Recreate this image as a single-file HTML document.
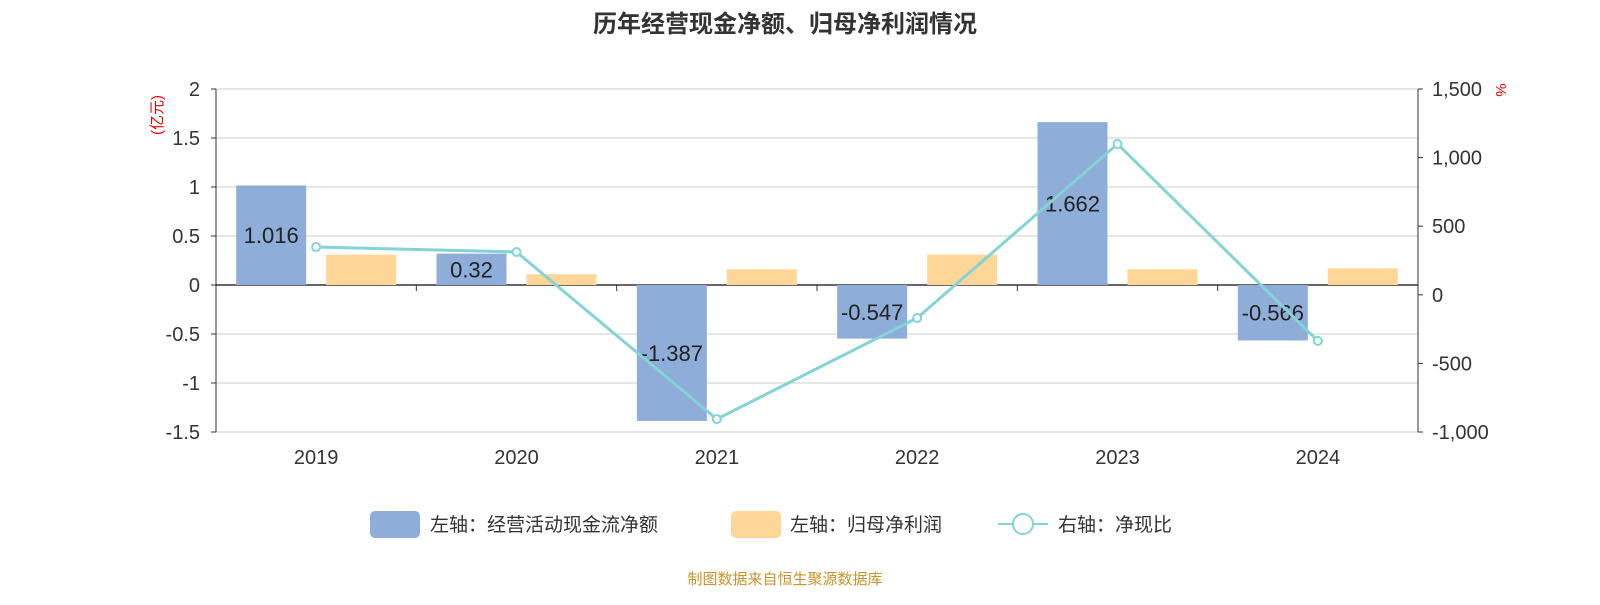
<!DOCTYPE html>
<html><head><meta charset="utf-8"><style>
body{margin:0;background:#fff;font-family:"Liberation Sans","Noto Sans CJK SC",sans-serif;}
svg text{font-family:"Liberation Sans","Noto Sans CJK SC",sans-serif;}
</style></head><body>
<svg id="chart" width="1600" height="600">
<text x="785" y="32" text-anchor="middle" font-size="24" font-weight="bold" fill="#333">历年经营现金净额、归母净利润情况</text>
<text transform="translate(162,115) rotate(-90)" text-anchor="middle" font-size="15" fill="#e00">(亿元)</text>
<text transform="translate(1496,90) rotate(90)" text-anchor="middle" font-size="15" fill="#e00">%</text>
<g id="grid"></g><g id="bars"></g><g id="line"></g><g id="axes"></g>
<g>
<rect x="370" y="511" width="50" height="27" rx="5" fill="#8eadd9"/>
<text x="430" y="531" font-size="19" fill="#333">左轴：经营活动现金流净额</text>
<rect x="731" y="511" width="50" height="27" rx="5" fill="#fed798"/>
<text x="790" y="531" font-size="19" fill="#333">左轴：归母净利润</text>
<line x1="998" y1="524" x2="1048" y2="524" stroke="#84d3d5" stroke-width="2"/>
<circle cx="1023" cy="524" r="10" fill="#fff" stroke="#84d3d5" stroke-width="2"/>
<text x="1058" y="531" font-size="19" fill="#333">右轴：净现比</text>
</g>
<text x="785" y="584" text-anchor="middle" font-size="15" fill="#c8932a">制图数据来自恒生聚源数据库</text>
</svg>
<script>
const categories=["2019","2020","2021","2022","2023","2024"];
const cashFlow=[1.016,0.32,-1.387,-0.547,1.662,-0.566];
const netProfit=[0.31,0.11,0.16,0.31,0.16,0.17];
const ratio=[348,312,-906,-169,1099,-336];
const leftTicks=[2,1.5,1,0.5,0,-0.5,-1,-1.5];
const rightTicks=[1500,1000,500,0,-500,-1000];
const NS="http://www.w3.org/2000/svg";
const X0=216,X1=1418,Y0=89,Y1=432;
const yL=v=>Y0+(2-v)*(Y1-Y0)/3.5;
const yR=v=>Y0+(1500-v)*(Y1-Y0)/2500;
const bw=(X1-X0)/categories.length;
const xC=i=>X0+bw*(i+0.5);
function mk(t,a,p,txt){const e=document.createElementNS(NS,t);for(const k in a)e.setAttribute(k,a[k]);if(txt!==undefined)e.textContent=txt;p.appendChild(e);return e;}
const g=document.getElementById('grid'),b=document.getElementById('bars'),l=document.getElementById('line'),ax=document.getElementById('axes');
leftTicks.forEach(v=>{const y=yL(v);
const gl=mk('line',{x1:X0,x2:X1,y1:y,y2:y,stroke:v===0?'#333':'#ccc','stroke-width':v===0?1.5:1},g);


const t=mk('text',{x:200,y:y+7,'text-anchor':'end','font-size':20,fill:'#333'},ax,String(v));


mk('line',{x1:X0-5,x2:X0,y1:y,y2:y,stroke:'#333'},ax);});
rightTicks.forEach(v=>{const y=yR(v);
const t=mk('text',{x:1432,y:y+7,'font-size':20,fill:'#333'},ax,v.toLocaleString('en-US'));


mk('line',{x1:X1,x2:X1+5,y1:y,y2:y,stroke:'#333'},ax);});
mk('line',{x1:X0,x2:X0,y1:Y0,y2:Y1,stroke:'#333'},ax);
mk('line',{x1:X1,x2:X1,y1:Y0,y2:Y1,stroke:'#333'},ax);
categories.forEach((c,i)=>{
const xc=xC(i);
mk('line',{x1:X0+bw*i,x2:X0+bw*i,y1:yL(0),y2:yL(0)+6,stroke:'#333'},ax);
const t=mk('text',{x:xc,y:464,'text-anchor':'middle','font-size':20,fill:'#333'},ax,c);


const y0=yL(0),y1=yL(cashFlow[i]);
const r=mk('rect',{x:xc-80,y:Math.min(y0,y1),width:70,height:Math.abs(y1-y0),fill:'#8eadd9'},b);


const y2=yL(netProfit[i]);
const r2=mk('rect',{x:xc+10,y:Math.min(y0,y2),width:70,height:Math.abs(y2-y0),fill:'#fed798'},b);


const lab=mk('text',{x:xc-45,y:(y0+y1)/2+8,'text-anchor':'middle','font-size':22,fill:'#222'},l,String(cashFlow[i]));


});
const pts=ratio.map((v,i)=>xC(i)+','+yR(v)).join(' ');
const pl=mk('polyline',{points:pts,fill:'none',stroke:'#84d3d5','stroke-width':3},l);


ratio.forEach((v,i)=>{const c=mk('circle',{cx:xC(i),cy:yR(v),r:4,fill:'#fff',stroke:'#84d3d5','stroke-width':2},l);

});
</script>
</body></html>
